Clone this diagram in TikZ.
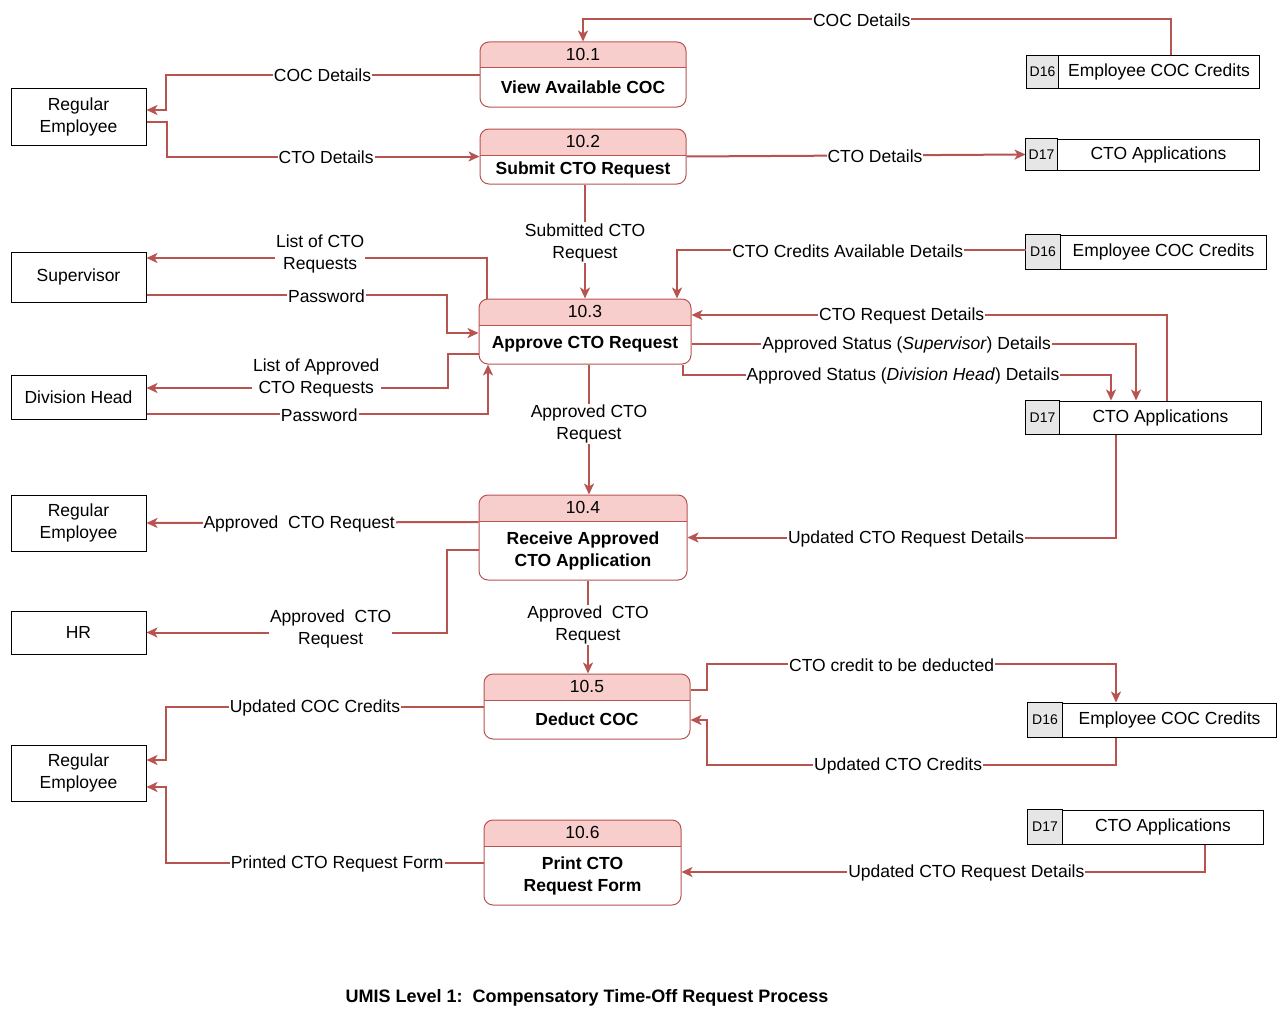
\documentclass[tikz,border=0pt]{standalone}
\usepackage{fontspec}
\setmainfont{Liberation Sans}
\usetikzlibrary{arrows.meta}

\definecolor{flowred}{HTML}{B85450}
\definecolor{hdrpink}{HTML}{F8CECC}
\definecolor{storegray}{HTML}{E6E6E6}

\tikzset{
  every node/.style={font=\fontsize{17.5}{22}\selectfont},
  entity/.style={draw=black, line width=1pt, minimum width=135pt, align=center, inner sep=0pt},
  proc/.style={draw=flowred, line width=1pt, rounded corners=9pt, fill=white, inner sep=0pt,
    path picture={
      \fill[hdrpink, sharp corners] (path picture bounding box.north west) rectangle ([yshift=-26pt]path picture bounding box.north east);
      \draw[flowred, line width=1pt, sharp corners] ([yshift=-26pt]path picture bounding box.north west) -- ([yshift=-26pt]path picture bounding box.north east);
    }},
  ptxt/.style={font=\bfseries\fontsize{17.5}{22}\selectfont, align=center},
  store/.style={draw=black, line width=1pt, inner sep=0pt},
  idcell/.style={draw=black, line width=1pt, fill=storegray},
  idtxt/.style={font=\fontsize{14}{16}\selectfont},
  flow/.style={draw=flowred, line width=2pt, -{Stealth[length=11pt, width=10pt, inset=3pt]}},
  lbl/.style={fill=white, inner sep=1pt, align=center, text=black, yshift=-1pt}
}

\begin{document}
\begin{tikzpicture}[x=1pt, y=-1pt]
  \fill[white] (0,0) rectangle (1287,1025);
  \useasboundingbox (0,0) rectangle (1287,1025);

  % external entities
  \node[entity, minimum height=57pt] (e1) at (78.5,116.5) {Regular\\Employee};
  \node[entity, minimum height=50pt] (sup) at (78.5,277) {Supervisor};
  \node[entity, minimum height=44pt] (div) at (78.5,397) {Division Head};
  \node[entity, minimum height=56pt] (e2) at (78.5,523) {Regular\\Employee};
  \node[entity, minimum height=43pt] (hr) at (78.5,632.5) {HR};
  \node[entity, minimum height=56pt] (e3) at (78.5,773) {Regular\\Employee};

  % processes
  \node[proc, minimum width=206pt, minimum height=65pt] (p1) at (583,74.5) {};
  \node (p1n) at ([yshift=-13pt]p1.north) {10.1};
  \node[ptxt] (p1t) at ([yshift=-13pt]p1.center) {View Available COC};

  \node[proc, minimum width=206pt, minimum height=55pt] (p2) at (583,156.5) {};
  \node (p2n) at ([yshift=-13pt]p2.north) {10.2};
  \node[ptxt] (p2t) at ([yshift=-13pt]p2.center) {Submit CTO Request};

  \node[proc, minimum width=212pt, minimum height=65pt] (p3) at (585,331.5) {};
  \node (p3n) at ([yshift=-13pt]p3.north) {10.3};
  \node[ptxt] (p3t) at ([yshift=-13pt]p3.center) {Approve CTO Request};

  \node[proc, minimum width=208pt, minimum height=85pt] (p4) at (583,537.5) {};
  \node (p4n) at ([yshift=-13pt]p4.north) {10.4};
  \node[ptxt] (p4t) at ([yshift=-13pt]p4.center) {Receive Approved\\CTO Application};

  \node[proc, minimum width=206pt, minimum height=65pt] (p5) at (587,706.5) {};
  \node (p5n) at ([yshift=-13pt]p5.north) {10.5};
  \node[ptxt] (p5t) at ([yshift=-13pt]p5.center) {Deduct COC};

  \node[proc, minimum width=197pt, minimum height=85pt] (p6) at (582.5,862.5) {};
  \node (p6n) at ([yshift=-13pt]p6.north) {10.6};
  \node[ptxt] (p6t) at ([yshift=-13pt]p6.center) {Print CTO\\Request Form};

  % data stores
  \node[store, minimum width=232pt, minimum height=32pt] (s1) at (1143,72) {};
  \draw[idcell] (s1.north west) rectangle ([xshift=32pt]s1.south west);
  \node[idtxt] (s1id) at ([xshift=16pt]s1.west) {D16};
  \node (s1t) at ([xshift=16pt]s1.center) {Employee COC Credits};

  \node[store, minimum width=233pt, minimum height=31pt] (s2) at (1142.5,154.5) {};
  \draw[idcell] (s2.north west) rectangle ([xshift=32pt]s2.south west);
  \node[idtxt] (s2id) at ([xshift=16pt]s2.west) {D17};
  \node (s2t) at ([xshift=16pt]s2.center) {CTO Applications};

  \node[store, minimum width=240pt, minimum height=34pt] (s3) at (1146,252) {};
  \draw[idcell] (s3.north west) rectangle ([xshift=35pt]s3.south west);
  \node[idtxt] (s3id) at ([xshift=17.5pt]s3.west) {D16};
  \node (s3t) at ([xshift=17.5pt]s3.center) {Employee COC Credits};

  \node[store, minimum width=235pt, minimum height=33pt] (s4) at (1143.5,417.5) {};
  \draw[idcell] (s4.north west) rectangle ([xshift=34pt]s4.south west);
  \node[idtxt] (s4id) at ([xshift=17pt]s4.west) {D17};
  \node (s4t) at ([xshift=17pt]s4.center) {CTO Applications};

  \node[store, minimum width=248pt, minimum height=34pt] (s5) at (1152,720) {};
  \draw[idcell] (s5.north west) rectangle ([xshift=35pt]s5.south west);
  \node[idtxt] (s5id) at ([xshift=17.5pt]s5.west) {D16};
  \node (s5t) at ([xshift=17.5pt]s5.center) {Employee COC Credits};

  \node[store, minimum width=235pt, minimum height=34pt] (s6) at (1145.5,827) {};
  \draw[idcell] (s6.north west) rectangle ([xshift=35pt]s6.south west);
  \node[idtxt] (s6id) at ([xshift=17.5pt]s6.west) {D17};
  \node (s6t) at ([xshift=17.5pt]s6.center) {CTO Applications};

  % data flows
  \draw[flow] ([xshift=28pt]s1.north) -- ++(0,-36) -| (p1.north) node[lbl,pos=0.263]{COC Details};
  \draw[flow] (p1.west) -- ++(-314,0) node[lbl,midway]{COC Details} |- ([yshift=6.5pt]e1.east);
  \draw[flow] ([yshift=-5.5pt]e1.east) -- ++(20,0) |- (p2.west) node[lbl,pos=0.755]{CTO Details};
  \draw[flow] (p2.east) -- (s2.west) node[lbl,pos=0.556]{CTO Details};
  \draw[flow] ([xshift=2pt]p2.south) -- (p3.north) node[lbl,midway]{Submitted CTO\\Request};
  \draw[flow] ([yshift=2pt]s3.west) -| ([xshift=92pt]p3.north) node[lbl,pos=0.255]{CTO Credits Available Details};

  \draw[flow] ([xshift=-98pt]p3.north) |- ([yshift=19pt]sup.east) node[lbl,pos=0.745,yshift=5pt]{List of CTO\\Requests};
  \draw[flow] ([yshift=-18pt]sup.east) -- ++(300,0) node[lbl,pos=0.6]{Password} |- ([yshift=-1.5pt]p3.west);
  \draw[flow] ([yshift=-22.5pt]p3.west) -- ++(-31,0) |- ([yshift=9pt]div.east) node[lbl,pos=0.718,yshift=11pt]{List of Approved\\CTO Requests};
  \draw[flow] ([yshift=-17pt]div.east) -| ([xshift=-97pt]p3.south) node[lbl,pos=0.253]{Password};

  \draw[flow] ([xshift=23.5pt]s4.north) |- ([yshift=16.5pt]p3.east) node[lbl,pos=0.779]{CTO Request Details};
  \draw[flow] ([yshift=-12.5pt]p3.east) -| ([xshift=-7.5pt]s4.north) node[lbl,pos=0.242]{Approved Status (\textit{Supervisor}) Details};
  \draw[flow] ([xshift=98pt]p3.south) -- ++(0,10) -| ([xshift=-32.5pt]s4.north) node[lbl,pos=0.257]{Approved Status (\textit{Division Head}) Details};

  \draw[flow] ([xshift=4pt]p3.south) -- ([xshift=6pt]p4.north) node[lbl,pos=0.45]{Approved CTO\\Request};
  \draw[flow] ([xshift=-27.5pt]s4.south) |- (p4.east) node[lbl,pos=0.745]{Updated CTO Request Details};
  \draw[flow] ([yshift=15.5pt]p4.west) -- (e2.east) node[lbl,pos=0.54]{Approved\ \ CTO Request};
  \draw[flow] ([yshift=-12.5pt]p4.west) -- ++(-32,0) |- (hr.east) node[lbl,pos=0.693,yshift=5pt]{Approved\ \ CTO\\Request};
  \draw[flow] ([xshift=5pt]p4.south) -- ([xshift=1pt]p5.north) node[lbl,pos=0.47]{Approved\ \ CTO\\Request};

  \draw[flow] ([yshift=16.5pt]p5.east) -- ++(16,0) -- ++(0,-26) -| ([xshift=-36pt]s5.north) node[lbl,pos=0.226]{CTO credit to be deducted};
  \draw[flow] ([xshift=-36pt]s5.south) -- ++(0,27) -| ([xshift=16pt,yshift=-13.5pt]p5.east) node[lbl,pos=0.266]{Updated CTO Credits} -- ([yshift=-13.5pt]p5.east);
  \draw[flow] (p5.west) -- ++(-318,0) node[lbl,pos=0.53]{Updated COC Credits} |- ([yshift=13pt]e3.east);
  \draw[flow] (p6.west) -- ++(-318,0) node[lbl,pos=0.46]{Printed CTO Request Form} |- ([yshift=-14pt]e3.east);
  \draw[flow] ([xshift=59.5pt]s6.south) |- ([yshift=-9.5pt]p6.east) node[lbl,pos=0.728]{Updated CTO Request Details};

  % caption
  \node[font=\bfseries\fontsize{18}{22}\selectfont] (title) at (587,998) {UMIS Level 1:\ \ Compensatory Time-Off Request Process};
\end{tikzpicture}
\end{document}
